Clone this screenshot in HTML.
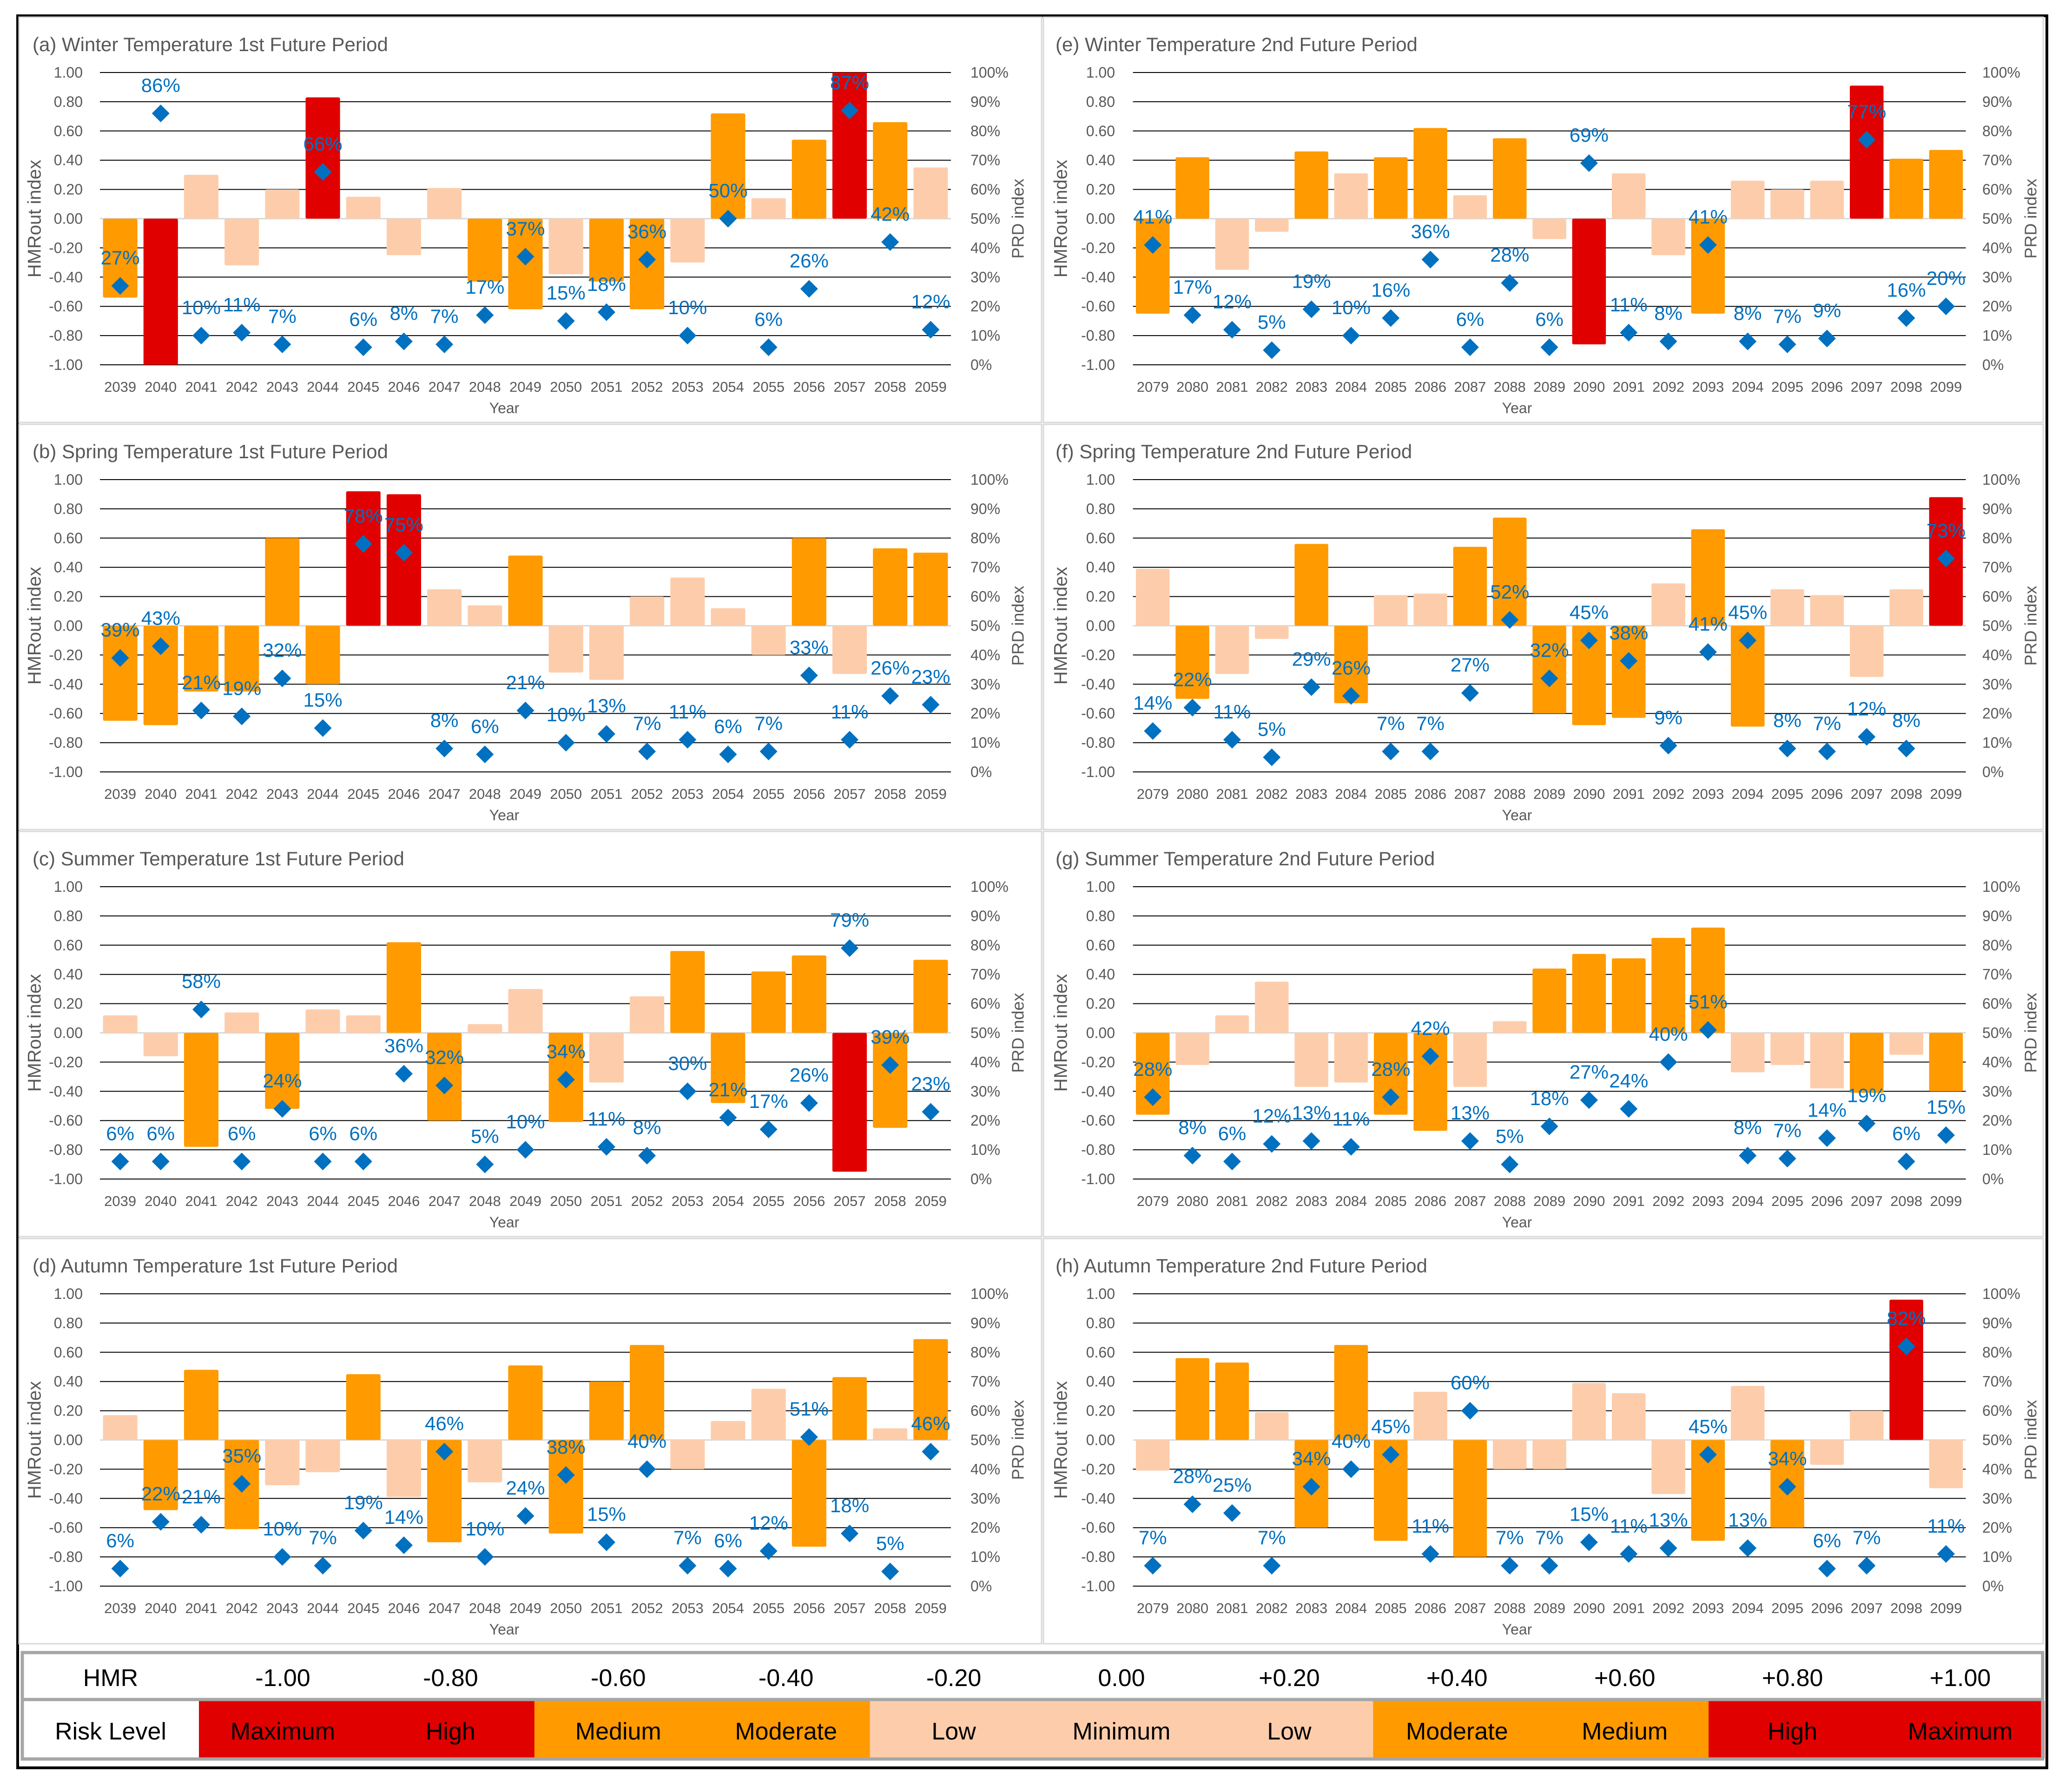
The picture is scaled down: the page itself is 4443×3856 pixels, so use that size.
<!DOCTYPE html>
<html><head><meta charset="utf-8"><style>
html,body{margin:0;padding:0;background:#fff;}
svg{display:block;font-family:"Liberation Sans",sans-serif;}
</style></head><body>
<svg id="fig" xmlns="http://www.w3.org/2000/svg" width="4443" height="3856" viewBox="0 0 4443 3856">
<rect x="38" y="34" width="4366" height="3770" fill="#fff" stroke="#000" stroke-width="6"/>
<g id="panels"></g>
<g id="legend"></g>
</svg>
<script>
const yearsP1 = [2039,2040,2041,2042,2043,2044,2045,2046,2047,2048,2049,2050,2051,2052,2053,2054,2055,2056,2057,2058,2059];
const yearsP2 = [2079,2080,2081,2082,2083,2084,2085,2086,2087,2088,2089,2090,2091,2092,2093,2094,2095,2096,2097,2098,2099];
const hmrTicks = ['1.00','0.80','0.60','0.40','0.20','0.00','-0.20','-0.40','-0.60','-0.80','-1.00'];
const prdTicks = ['100%','90%','80%','70%','60%','50%','40%','30%','20%','10%','0%'];
const titles = ['(a) Winter Temperature 1st Future Period','(b) Spring Temperature 1st Future Period','(c) Summer Temperature 1st Future Period','(d) Autumn Temperature 1st Future Period','(e) Winter Temperature 2nd Future Period','(f) Spring Temperature 2nd Future Period','(g) Summer Temperature 2nd Future Period','(h) Autumn Temperature 2nd Future Period'];
const hmrA = [-0.54,-1.00,0.30,-0.32,0.20,0.83,0.15,-0.25,0.21,-0.43,-0.62,-0.38,-0.43,-0.62,-0.30,0.72,0.14,0.54,1.00,0.66,0.35];
const prdA = [27,86,10,11,7,66,6,8,7,17,37,15,18,36,10,50,6,26,87,42,12];
const hmrB = [-0.65,-0.68,-0.45,-0.45,0.60,-0.40,0.92,0.90,0.25,0.14,0.48,-0.32,-0.37,0.20,0.33,0.12,-0.20,0.60,-0.33,0.53,0.50];
const prdB = [39,43,21,19,32,15,78,75,8,6,21,10,13,7,11,6,7,33,11,26,23];
const hmrC = [0.12,-0.16,-0.78,0.14,-0.52,0.16,0.12,0.62,-0.60,0.06,0.30,-0.61,-0.34,0.25,0.56,-0.48,0.42,0.53,-0.95,-0.65,0.50];
const prdC = [6,6,58,6,24,6,6,36,32,5,10,34,11,8,30,21,17,26,79,39,23];
const hmrD = [0.17,-0.48,0.48,-0.61,-0.31,-0.22,0.45,-0.39,-0.70,-0.29,0.51,-0.64,0.40,0.65,-0.20,0.13,0.35,-0.73,0.43,0.08,0.69];
const prdD = [6,22,21,35,10,7,19,14,46,10,24,38,15,40,7,6,12,51,18,5,46];
const hmrE = [-0.65,0.42,-0.35,-0.09,0.46,0.31,0.42,0.62,0.16,0.55,-0.14,-0.86,0.31,-0.25,-0.65,0.26,0.20,0.26,0.91,0.41,0.47];
const prdE = [41,17,12,5,19,10,16,36,6,28,6,69,11,8,41,8,7,9,77,16,20];
const hmrF = [0.39,-0.50,-0.33,-0.09,0.56,-0.53,0.21,0.22,0.54,0.74,-0.60,-0.68,-0.63,0.29,0.66,-0.69,0.25,0.21,-0.35,0.25,0.88];
const prdF = [14,22,11,5,29,26,7,7,27,52,32,45,38,9,41,45,8,7,12,8,73];
const hmrG = [-0.56,-0.22,0.12,0.35,-0.37,-0.34,-0.56,-0.67,-0.37,0.08,0.44,0.54,0.51,0.65,0.72,-0.27,-0.22,-0.38,-0.41,-0.15,-0.40];
const prdG = [28,8,6,12,13,11,28,42,13,5,18,27,24,40,51,8,7,14,19,6,15];
const hmrH = [-0.21,0.56,0.53,0.19,-0.60,0.65,-0.69,0.33,-0.80,-0.20,-0.20,0.39,0.32,-0.37,-0.69,0.37,-0.60,-0.17,0.20,0.96,-0.33];
const prdH = [7,28,25,7,34,40,45,11,60,7,7,15,11,13,45,13,34,6,7,82,11];
const legendHmr = ['-1.00','-0.80','-0.60','-0.40','-0.20','0.00','+0.20','+0.40','+0.60','+0.80','+1.00'];
const legendRisk = ['Maximum','High','Medium','Moderate','Low','Minimum','Low','Moderate','Medium','High','Maximum'];
const legendClass = ['red','red','orange','orange','light','light','light','orange','orange','red','red'];

const NS='http://www.w3.org/2000/svg';
const COL={red:'#e00000',orange:'#ff9a00',light:'#fdcdab'};
function mk(tag,attrs,parent,txt){const e=document.createElementNS(NS,tag);for(const k in attrs)e.setAttribute(k,attrs[k]);if(txt!==undefined)e.textContent=txt;parent.appendChild(e);return e;}
function riskColor(v){const a=Math.abs(v);return a>0.805?COL.red:(a>=0.40?COL.orange:COL.light);}

const panelsG=document.getElementById('panels');
const colsCfg=[
 {px:41,pw:2200,x0:215,x1:2046,tickR:178,rlx:2088,prdX:2193,hmrX:77,titleX:70,yearX:1085},
 {px:2245,pw:2151,x0:2437.6,x1:4229.6,tickR:2399,rlx:4265,prdX:4372,hmrX:2285,titleX:2271,yearX:3264}
];
const panelData=[[hmrA,prdA],[hmrB,prdB],[hmrC,prdC],[hmrD,prdD],[hmrE,prdE],[hmrF,prdF],[hmrG,prdG],[hmrH,prdH]];
const letters='abcdefgh';
for(let p=0;p<8;p++){
  const c=colsCfg[p<4?0:1], r=p%4;
  const top=156+876*r;
  const bot=top+629;
  const yH=v=>top+(1-v)/2*(bot-top);
  const yP=v=>bot-v/100*(bot-top);
  const years=p<4?yearsP1:yearsP2;
  const step=(c.x1-c.x0)/years.length;
  const xC=i=>c.x0+step*(i+0.5);
  const [hmr,prd]=panelData[p];
  const g=mk('g',{},panelsG);
  
  
  const pb=mk('rect',{x:c.px,y:37+876*r,width:c.pw,height:872,fill:'#fff',stroke:'#d9d9d9','stroke-width':3},g);
  
  
  const tt=mk('text',{x:c.titleX,y:top-46,'font-size':42,fill:'#595959'},g,titles[p]);
  
  
  for(let k=0;k<hmrTicks.length;k++){
    const y=top+k*(bot-top)/10;
    if(k!==5){const gl=mk('line',{x1:c.x0,x2:c.x1,y1:y,y2:y,stroke:'#000','stroke-width':2},g);
      
      }
    const tl=mk('text',{x:c.tickR,y:y+11,'font-size':32,fill:'#595959','text-anchor':'end'},g,hmrTicks[k]);
    
    
    const tr=mk('text',{x:c.rlx,y:y+11,'font-size':32,fill:'#595959'},g,prdTicks[k]);
    
    
  }
  const zl=mk('line',{x1:c.x0,x2:c.x1,y1:yH(0),y2:yH(0),stroke:'#d9d9d9','stroke-width':3},g);
  
  
  const ht=mk('text',{x:c.hmrX,y:yH(0),'font-size':40,fill:'#595959','text-anchor':'middle',transform:`rotate(-90 ${c.hmrX} ${yH(0)})`,'dominant-baseline':'middle'},g,'HMRout index');
  
  
  const pt=mk('text',{x:c.prdX,y:yH(0),'font-size':36,fill:'#595959','text-anchor':'middle',transform:`rotate(-90 ${c.prdX} ${yH(0)})`,'dominant-baseline':'middle'},g,'PRD index');
  
  
  const yt=mk('text',{x:c.yearX,y:bot+104,'font-size':32,fill:'#595959','text-anchor':'middle'},g,'Year');
  
  
  const bw=step*0.85;
  for(let i=0;i<years.length;i++){
    const yl=mk('text',{x:xC(i),y:bot+58,'font-size':31,fill:'#595959','text-anchor':'middle'},g,String(years[i]));
    
    
    const v=hmr[i], y0=yH(0), y1=yH(v);
    const b=mk('rect',{x:xC(i)-bw/2,y:Math.min(y0,y1),width:bw,height:Math.abs(y1-y0),rx:3,fill:riskColor(v)},g);
    
    
  }
  for(let i=0;i<years.length;i++){
    const cx=xC(i), cy=yP(prd[i]), h=19;
    const d=mk('polygon',{points:`${cx},${cy-h} ${cx+h},${cy} ${cx},${cy+h} ${cx-h},${cy}`,fill:'#0070c0'},g);
    
    
    const lb=mk('text',{x:cx,y:cy-46,'font-size':42,fill:'#0070c0','text-anchor':'middle'},g,prd[i]+'%');
    
    
  }
}
const lg=document.getElementById('legend');
const L={x0:45,x1:4398,y0:3553,ym:3657,y1:3788,c0:428};
const cw=(L.x1-L.c0)/legendRisk.length;
for(let i=0;i<legendRisk.length;i++){
  const cell=mk('rect',{x:L.c0+cw*i,y:L.ym+3,width:cw+1,height:L.y1-L.ym-7,fill:COL[legendClass[i]]},lg);
  
  
  const t1=mk('text',{x:L.c0+cw*(i+0.5),y:3628,'font-size':52,fill:'#000','text-anchor':'middle'},lg,legendHmr[i]);
  
  
  const t2=mk('text',{x:L.c0+cw*(i+0.5),y:3743,'font-size':52,fill:'#000','text-anchor':'middle'},lg,legendRisk[i]);
  
  
}
const lb1=mk('text',{x:238,y:3628,'font-size':52,fill:'#000','text-anchor':'middle'},lg,'HMR');


const lb2=mk('text',{x:238,y:3743,'font-size':52,fill:'#000','text-anchor':'middle'},lg,'Risk Level');


const lbo=mk('rect',{x:L.x0+3,y:L.y0+3,width:L.x1-L.x0-6,height:L.y1-L.y0-6,fill:'none',stroke:'#a6a6a6','stroke-width':7},lg);


const lbm=mk('line',{x1:L.x0,x2:L.x1,y1:L.ym,y2:L.ym,stroke:'#a6a6a6','stroke-width':7},lg);


</script>
</body></html>
